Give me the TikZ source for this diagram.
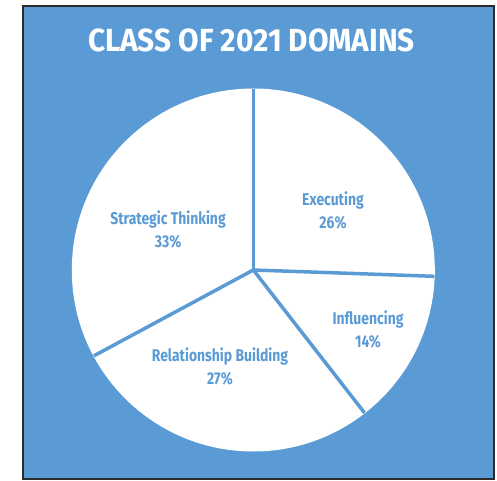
\documentclass[tikz,border=0pt]{standalone}
\usepackage{fontspec}
\setmainfont{Fira Sans}
\definecolor{bgblue}{HTML}{5B9BD5}
\definecolor{frame}{HTML}{2B2B2B}
\begin{document}
\begin{tikzpicture}[x=1pt,y=1pt,
  lbl/.style={text=bgblue,font=\bfseries\fontsize{17}{23}\selectfont,align=center,inner sep=0pt},
  sep/.style={draw=bgblue,line width=3.5pt},
  ttl/.style={text=white,font=\bfseries\fontsize{32}{34}\selectfont,inner sep=0pt}]
\useasboundingbox (0,0) rectangle (497,480);
\fill[white] (0,0) rectangle (497,480);
\draw[fill=bgblue,draw=frame,line width=2pt] (23,1) rectangle (494,474);
\coordinate (c) at (253.3,210);
\fill[white] (c) circle (181.5);
\draw[sep] (c) -- ++(90:181) coordinate (p1);
\draw[sep] (c) -- ++(-2:181) coordinate (p2);
\draw[sep] (c) -- ++(-52.1:181) coordinate (p3);
\draw[sep] (c) -- ++(208.3:181) coordinate (p4);
\node[ttl] (title) at (251.5,439.2) {\scalebox{0.93}[1]{CLASS OF 2021 DOMAINS}};
\node[lbl] (exe) at (333,270) {\scalebox{0.82}[1]{Executing}\\\scalebox{0.82}[1]{26\%}};
\node[lbl] (str) at (168,250.5) {\scalebox{0.82}[1]{Strategic Thinking}\\\scalebox{0.82}[1]{33\%}};
\node[lbl] (inf) at (368,150.5) {\scalebox{0.82}[1]{Influencing}\\\scalebox{0.82}[1]{14\%}};
\node[lbl] (rel) at (220,113.5) {\scalebox{0.82}[1]{Relationship Building}\\\scalebox{0.82}[1]{27\%}};
\end{tikzpicture}
\end{document}
